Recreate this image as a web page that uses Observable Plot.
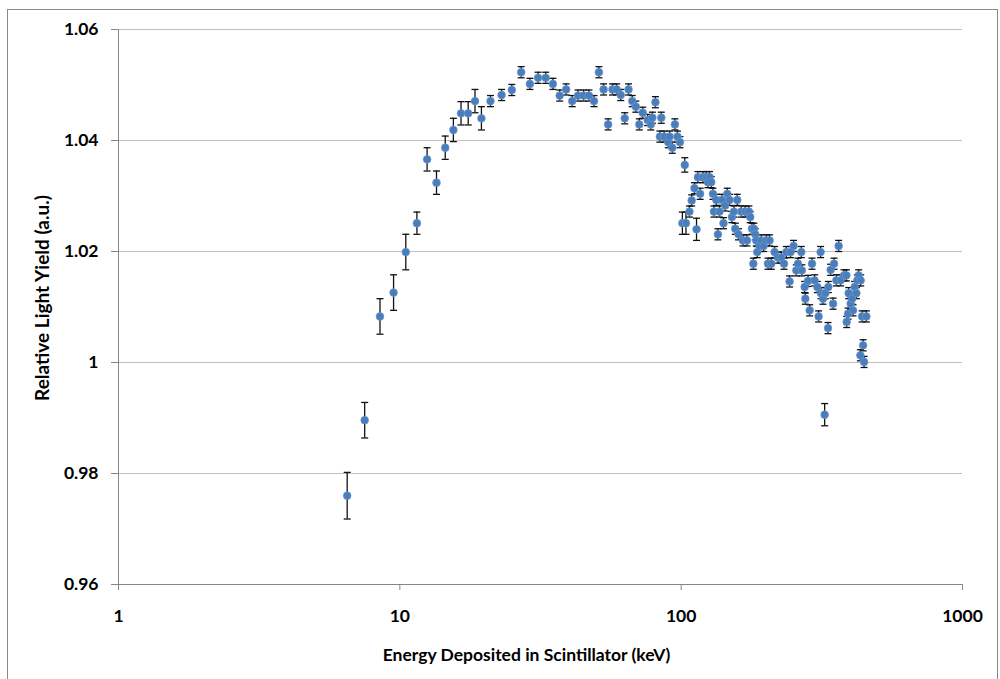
<!DOCTYPE html>
<html><head><meta charset="utf-8">
<script src="https://cdn.jsdelivr.net/npm/d3@7"></script>
<script src="https://cdn.jsdelivr.net/npm/@observablehq/plot@0.6"></script>
<style>
html,body{margin:0;padding:0;background:#fff;overflow:hidden;width:1000px;height:679px}
#frame{position:absolute;left:7px;top:9px;width:991px;height:720px;border:1px solid #898989;box-sizing:border-box}
#chart{position:absolute;left:0;top:0}
</style></head><body>
<div id="frame"></div><div id="chart"></div>
<script>
const energy = [6.5,7.5,8.5,9.5,10.5,11.5,12.5,13.5,14.5,15.5,16.5,17.5,18.5,19.5,
  21,23,25,27,29,31,33,35,37,39,41,43,45,47,49,51,53,55,57,59,61,63,65,67,69,71,73,76,78,79,81,84,85,87,90,91,93,95,97,99,
  101,103,104,107,109,111.5,113.4,114.7,116.8,119.5,122.7,124.5,126.1,127.9,129.7,130.8,133.3,135.1,136.9,139.6,141.4,143.4,145.8,148.5,
  151.5,154,155.7,158.2,159.9,163.5,165.8,169,171.3,174.1,176,178.5,180.5,181.4,183.4,184.9,186.4,189.9,192.6,196.3,
  200.6,203.5,206.2,209.1,214.8,220.9,226.9,232,236.4,242.9,244.9,251,256.6,260.2,267.3,268.5,274.7,276.3,282.4,286.2,291.8,298.1,
  304.8,308,313.1,314,319.3,323.6,325.4,332.7,333.5,339.9,346.7,349.5,356.1,362.9,368.9,379.3,386.6,387.5,392,393.9,
  400.4,405.1,408.3,413.7,419.5,422.9,427.5,433.5,434.6,439.6,443.3,446.9,455.3];
const lightYield = [0.9760,0.9896,1.0083,1.0126,1.0199,1.0251,1.0366,1.0324,1.0387,1.0419,1.0449,1.0449,1.0471,1.0440,
  1.0471,1.0482,1.0491,1.0523,1.0502,1.0513,1.0513,1.0502,1.0481,1.0492,1.0471,1.0481,1.0481,1.0481,1.0471,1.0523,1.0492,1.0429,1.0492,1.0492,1.0482,1.0440,1.0492,1.0471,1.0461,1.0429,1.0450,1.0437,1.0429,1.0441,1.0469,1.0407,1.0441,1.0407,1.0397,1.0407,1.0387,1.0429,1.0407,1.0397,
  1.0251,1.0356,1.0251,1.0272,1.0292,1.0314,1.0240,1.0334,1.0304,1.0334,1.0334,1.0325,1.0334,1.0325,1.0304,1.0272,1.0293,1.0231,1.0272,1.0293,1.0251,1.0283,1.0304,1.0293,
  1.0262,1.0272,1.0241,1.0293,1.0231,1.0272,1.0220,1.0272,1.0220,1.0272,1.0262,1.0241,1.0178,1.0241,1.0231,1.0220,1.0199,1.0210,1.0220,1.0210,
  1.0220,1.0178,1.0220,1.0178,1.0199,1.0189,1.0189,1.0178,1.0199,1.0146,1.0199,1.0210,1.0166,1.0178,1.0199,1.0166,1.0136,1.0115,1.0147,1.0094,1.0178,1.0148,
  1.0136,1.0083,1.0199,1.0125,1.0115,0.9906,1.0125,1.0062,1.0136,1.0167,1.0106,1.0178,1.0148,1.0210,1.0148,1.0157,1.0157,1.0073,1.0088,1.0125,
  1.0106,1.0115,1.0094,1.0136,1.0125,1.0148,1.0157,1.0013,1.0148,1.0083,1.0031,1.0001,1.0083];
const yieldError = [0.0042,0.0032,0.0032,0.0032,0.0032,0.0020,0.0021,0.0021,0.0021,0.0021,0.0021,0.0021,0.0021,0.0021,
  0.001,0.001,0.001,0.001,0.001,0.001,0.001,0.001,0.001,0.001,0.001,0.001,0.001,0.001,0.001,0.001,0.001,0.001,0.001,0.001,0.001,0.001,0.001,0.001,0.001,0.001,0.001,0.001,0.001,0.001,0.001,0.001,0.001,0.001,0.001,0.001,0.001,0.001,0.001,0.001,
  0.002,0.0013,0.002,0.001,0.001,0.001,0.002,0.001,0.001,0.001,0.001,0.001,0.001,0.001,0.001,0.001,0.001,0.001,0.001,0.001,0.001,0.001,0.001,0.001,
  0.001,0.001,0.001,0.001,0.001,0.001,0.001,0.001,0.001,0.001,0.001,0.001,0.001,0.001,0.001,0.001,0.001,0.001,0.001,0.001,
  0.001,0.001,0.001,0.001,0.001,0.001,0.001,0.001,0.001,0.001,0.001,0.001,0.001,0.001,0.001,0.001,0.001,0.001,0.001,0.001,0.001,0.001,
  0.001,0.001,0.001,0.001,0.001,0.002,0.001,0.001,0.001,0.001,0.001,0.001,0.001,0.001,0.001,0.001,0.001,0.001,0.001,0.001,
  0.001,0.001,0.001,0.001,0.001,0.001,0.001,0.001,0.001,0.001,0.001,0.001,0.001];
const xTicks = [1, 10, 100, 1000];
const yTicks = [0.96, 0.98, 1.00, 1.02, 1.04, 1.06];
const xLabel = "Energy Deposited in Scintillator (keV)";
const yLabel = "Relative Light Yield (a.u.)";

const data = energy.map((e, i) => ({e, y: lightYield[i], lo: lightYield[i] - yieldError[i], hi: lightYield[i] + yieldError[i]}));
const cap = {draw(ctx) { ctx.moveTo(-3.5, 0); ctx.lineTo(3.5, 0); }};
const font = "Lato, 'Open Sans', sans-serif";

const chart = Plot.plot({
  width: 1000, height: 679,
  marginLeft: 118, marginRight: 38, marginTop: 29, marginBottom: 95,
  style: {fontFamily: font, fontSize: "17.5px", fontWeight: "bold", color: "#000", background: "transparent"},
  x: {type: "log", domain: [1, 1000]},
  y: {domain: [0.96, 1.06]},
  marks: [
    Plot.gridY(yTicks, {stroke: "#c0c0c0", strokeOpacity: 1}),
    Plot.ruleX([1], {stroke: "#868686"}),
    Plot.ruleY([0.96], {stroke: "#868686"}),
    Plot.axisY(yTicks, {tickSize: 7, tickPadding: 13, tickFormat: d => String(+d.toFixed(2)), stroke: "#868686", fill: "#000", label: null}),
    Plot.axisX(xTicks, {tickSize: 6, tickPadding: 19, tickFormat: d => String(d), stroke: "#868686", fill: "#000", label: null}),
    Plot.ruleX(data, {x: "e", y1: "lo", y2: "hi", stroke: "#111", strokeWidth: 1.3}),
    Plot.dot(data, {x: "e", y: "lo", symbol: cap, fill: "none", stroke: "#111", strokeWidth: 1.3, r: 3}),
    Plot.dot(data, {x: "e", y: "hi", symbol: cap, fill: "none", stroke: "#111", strokeWidth: 1.3, r: 3}),
    Plot.dot(data, {x: "e", y: "y", r: 3.9, fill: "#4a7ebb", stroke: "#6f9bd3", strokeWidth: 0.6}),
    Plot.text([xLabel], {frameAnchor: "bottom", dy: 71, dx: -14, textAnchor: "middle", lineAnchor: "middle", text: d => d, fontSize: 17.5, fontWeight: "bold", fill: "#000"}),
    Plot.text([yLabel], {frameAnchor: "left", dx: -76, dy: -9, rotate: -90, textAnchor: "middle", lineAnchor: "middle", text: d => d, fontSize: 19, fontWeight: "bold", fill: "#000"})
  ]
});
document.getElementById("chart").appendChild(chart);
</script>
</body></html>
